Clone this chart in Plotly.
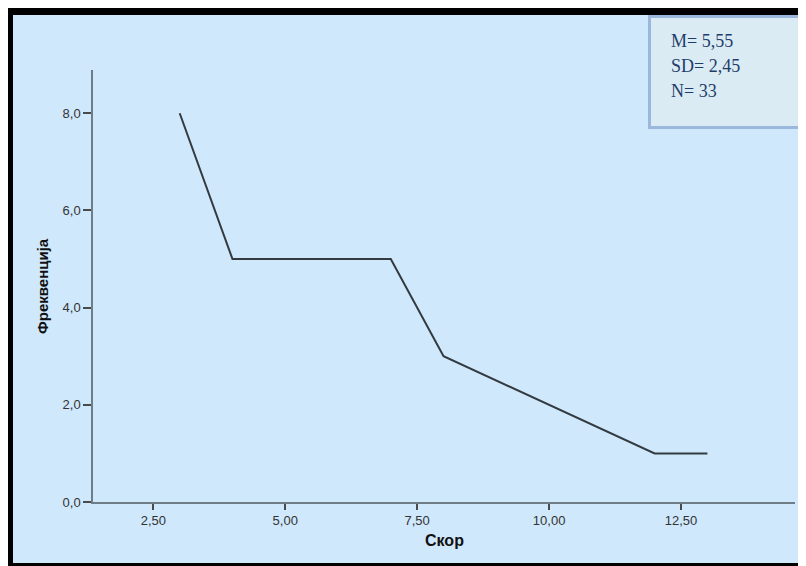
import plotly.graph_objects as go

# Data
scores = [3, 4, 5, 6, 7, 8, 12, 13]
frequencies = [8, 5, 5, 5, 5, 3, 1, 1]
x_tickvals = [2.5, 5.0, 7.5, 10.0, 12.5]
x_ticktext = ["2,50", "5,00", "7,50", "10,00", "12,50"]
y_tickvals = [0, 2, 4, 6, 8]
y_ticktext = ["0,0", "2,0", "4,0", "6,0", "8,0"]
stats_lines = ["M= 5,55", "SD= 2,45", "N= 33"]
x_title = "Скор"
y_title = "Фреквенција"

# page is rendered with an 8px body offset
OFF = 8
PW, PH = 806, 566
W, H = PW - OFF, PH - OFF
# plot area in page pixels
L, R, T, B = 93, 795, 70, 502
BG = "#CFE8FC"


def px(x):
    return (x - L) / (R - L)


def py(y):
    return (B - y) / (B - T)


fig = go.Figure()
fig.add_trace(go.Scatter(
    x=scores, y=frequencies, mode="lines",
    line=dict(color="#333a40", width=2),
    hoverinfo="skip", showlegend=False,
))

shapes = []


def rect(x0, y0, x1, y1, fill, line_color=None, lw=0):
    shapes.append(dict(
        type="rect", xref="paper", yref="paper",
        x0=px(x0), x1=px(x1), y0=py(y1), y1=py(y0),
        fillcolor=fill,
        line=dict(color=line_color or fill, width=lw),
        layer="above",
    ))


# black frame (page coords)
rect(0, 0, PW + 5, 15, "black")
rect(0, 0, 13, PH + 5, "black")
rect(0, 563, PW + 5, PH + 5, "black")
rect(804, 129, PW + 5, PH + 5, "#2a3a48")
# stats box
rect(649.5, 16.5, 808.5, 127.5, "#DAEBF3", "#9AB8DC", 3)

annotations = []
for i, t in enumerate(stats_lines):
    annotations.append(dict(
        text=t, xref="paper", yref="paper", x=px(669), y=py(41 + 25 * i),
        xanchor="left", yanchor="middle", showarrow=False,
        font=dict(family="Liberation Serif, Times New Roman, serif", size=18, color="#1F3D6B"),
    ))
annotations.append(dict(
    text="<b>" + x_title + "</b>", xref="paper", yref="paper",
    x=px(444), y=py(540), xanchor="center", yanchor="middle", showarrow=False,
    font=dict(family="Liberation Sans, Arial, sans-serif", size=16, color="#111111"),
))
annotations.append(dict(
    text="<b>" + y_title + "</b>", xref="paper", yref="paper",
    x=px(42), y=py(286), xanchor="center", yanchor="middle", showarrow=False,
    textangle=-90,
    font=dict(family="Liberation Sans, Arial, sans-serif", size=15, color="#111111"),
))

axis_common = dict(
    showgrid=False, zeroline=False, showline=True,
    linecolor="#6f7d86", linewidth=1.5,
    ticks="outside", tickcolor="#4a4a4a", tickwidth=2,
    tickfont=dict(family="Liberation Sans, Arial, sans-serif", size=13, color="#333333"),
)

fig.update_layout(
    width=W, height=H,
    margin=dict(l=L - OFF, r=PW - R, t=T - OFF, b=PH - B, pad=0),
    paper_bgcolor=BG, plot_bgcolor=BG,
    xaxis=dict(range=[1.357, 14.66], tickvals=x_tickvals, ticktext=x_ticktext,
               ticklen=6, **axis_common),
    yaxis=dict(range=[0, 8.89], tickvals=y_tickvals, ticktext=y_ticktext,
               ticklen=8, **axis_common),
    shapes=shapes,
    annotations=annotations,
    showlegend=False,
)

fig.write_html("out.html")
